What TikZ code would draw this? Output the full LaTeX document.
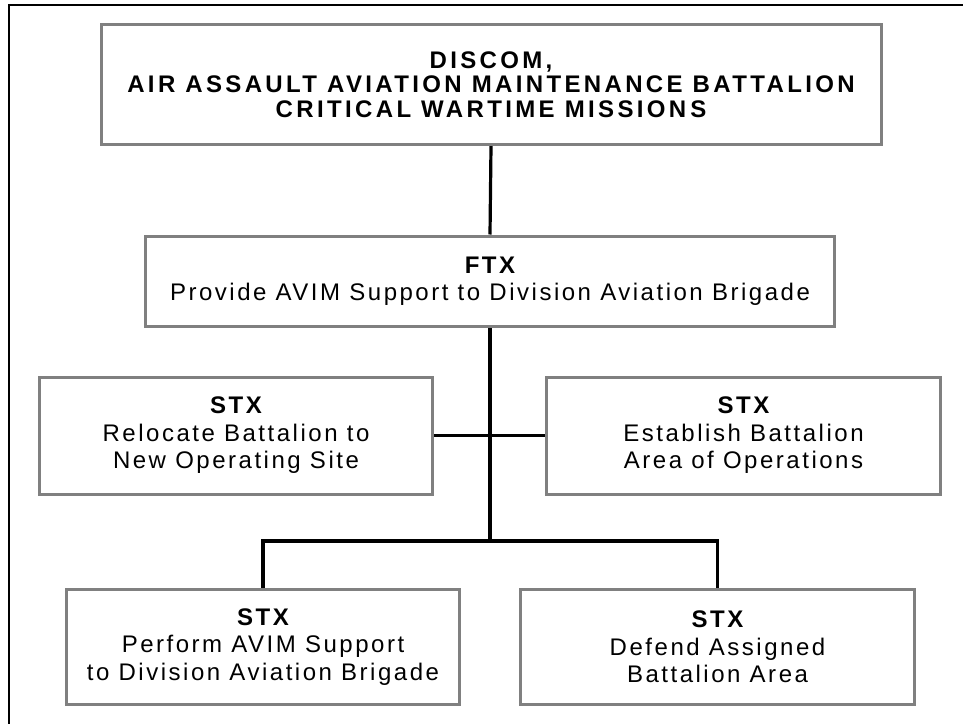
\documentclass[tikz,border=0pt]{standalone}
\usepackage{fontspec}
\setmainfont{Liberation Sans}
\newfontfamily\labelfont[LetterSpace=10.5]{Liberation Sans}
\newfontfamily\headfont[LetterSpace=14]{Liberation Sans}
\usetikzlibrary{backgrounds}
\definecolor{boxgray}{HTML}{808080}
\tikzset{
  box/.style={draw=boxgray, line width=2.25pt, fill=white, align=center,
    inner sep=0pt, font=\labelfont\fontsize{18pt}{20.6pt}\selectfont},
  headbox/.style={box, font=\headfont\bfseries\fontsize{18pt}{18.4pt}\selectfont},
  link/.style={draw=black, line width=2.4pt},
  frameline/.style={draw=black, line width=1.5pt}
}
\begin{document}
\begin{tikzpicture}[x=0.75pt, y=-0.75pt]
\useasboundingbox (0,0) rectangle (963,724);
% page frame (open to the right and bottom)
\draw[frameline] (9,724) -- (9,5) -- (963,5);

% mission boxes
\node[headbox, minimum width=585pt, minimum height=90pt] (top) at (491,84.5)
  {DISCOM,\\AIR ASSAULT AVIATION MAINTENANCE BATTALION\\CRITICAL WARTIME MISSION\kern3pt S};
\node[box, minimum width=516.75pt, minimum height=67.5pt] (ftx) at (490,281)
  {{\bfseries FTX}\\Provide AVIM Support to Division Aviation Brigade};
\node[box, minimum width=294.75pt, minimum height=87.75pt] (midL) at (236,435.5)
  {{\bfseries STX}\\Relocate Battalion to\\New Operating Site};
\node[box, minimum width=295.5pt, minimum height=87.75pt] (midR) at (743.5,435.5)
  {{\bfseries STX}\\Establish Battalion\\Area of Operations};
\node[box, minimum width=294.75pt, minimum height=86.25pt] (botL) at (263,647)
  {{\bfseries STX}\\Perform AVIM Support\\to Division Aviation Brigade};
\node[box, minimum width=295.5pt, minimum height=86.25pt] (botR) at (717.5,647)
  {{\bfseries STX}\\Defend Assigned\\Battalion Area};

% connectors, kept under the boxes
\coordinate (bus) at (490,541);
\begin{pgfonlayer}{background}
  \draw[link] (top.south) -- (ftx.north);
  \draw[link] (ftx.south) -- (bus);
  \draw[link] (midL.east) -- (midR.west);
  \draw[link] (botL.north) |- (bus) -| (botR.north);
\end{pgfonlayer}
\end{tikzpicture}
\end{document}
